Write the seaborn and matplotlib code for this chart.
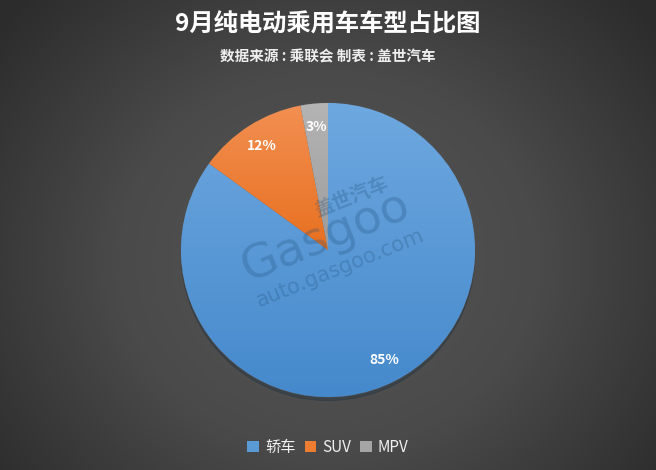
import numpy as np
import matplotlib
matplotlib.use('Agg')
import matplotlib.pyplot as plt
import seaborn as sns
from matplotlib.colors import LinearSegmentedColormap
from matplotlib.patches import Patch

# data
categories = ['轿车', 'SUV', 'MPV']
shares = [85, 12, 3]
top_colors = ['#6ea8e0', '#f28f52', '#b4b4b4']
bottom_colors = ['#4589cc', '#e8701f', '#9c9c9c']
base_colors = ['#5b9bd5', '#ed7d31', '#a5a5a5']

title = '9月纯电动乘用车车型占比图'
subtitle = '数据来源 : 乘联会 制表 : 盖世汽车'

sns.set_theme(style='dark')
plt.rcParams['font.family'] = ['Noto Sans CJK SC', 'DejaVu Sans']

fig = plt.figure(figsize=(6.56, 4.70), dpi=100)

# background radial gradient
bg = fig.add_axes([0, 0, 1, 1])
yy, xx = np.mgrid[0:470, 0:656]
r = np.sqrt(((xx - 328) / 420) ** 2 + ((yy - 260) / 380) ** 2)
r = np.clip(r, 0, 1)
bg_cmap = LinearSegmentedColormap.from_list('bg', ['#565656', '#4a4a4a', '#2c2c2c'])
bg.imshow(r, cmap=bg_cmap, aspect='auto', extent=[0, 1, 0, 1], vmin=0, vmax=1)
bg.set_axis_off()

# pie
ax = fig.add_axes([(328 - 150) / 656, (220 - 150) / 470, 300 / 656, 300 / 470])
wedges, texts, autotexts = ax.pie(
    shares, colors=base_colors, startangle=90, counterclock=False,
    autopct='%.0f%%', pctdistance=0.84,
    wedgeprops=dict(linewidth=0.6, edgecolor='#555555'),
    shadow=dict(ox=0.0, oy=-0.018, shade=0.7, alpha=0.35),
    textprops=dict(color='white', fontsize=10, fontweight='bold'))
lim = 150 / 147
ax.set_axis_off()

# vertical gradient fill for each slice
grad = np.linspace(1, 0, 256).reshape(-1, 1)
for w, c_top, c_bot in zip(wedges, top_colors, bottom_colors):
    ext = w.get_path().get_extents()
    cm = LinearSegmentedColormap.from_list('g', [c_bot, c_top])
    im = ax.imshow(grad, cmap=cm, aspect='auto',
                   extent=[ext.x0, ext.x1, ext.y0, ext.y1], zorder=w.get_zorder() + 0.1)
    im.set_clip_path(w)
ax.set_xlim(-lim, lim)
ax.set_ylim(-lim, lim)
for t in autotexts:
    t.set_zorder(5)

# watermark
wm = dict(color='#1f4f7a', alpha=0.28, rotation=22, ha='center', va='center', zorder=4)
ax.text(0.16, 0.36, '盖世汽车', fontsize=14, fontweight='bold', **wm)
ax.text(-0.02, 0.09, 'Gasgoo', fontsize=34, family='DejaVu Sans', **wm)
ax.text(0.08, -0.12, 'auto.gasgoo.com', fontsize=15, family='DejaVu Sans', **wm)

# titles
fig.text(0.5, 0.948, title, ha='center', va='center', color='white',
         fontsize=17.5, fontweight='bold')
fig.text(0.5, 0.881, subtitle, ha='center', va='center', color='#eeeeee',
         fontsize=10.5, fontweight='bold')

# legend
handles = [Patch(facecolor=c, edgecolor='none') for c in base_colors]
fig.legend(handles, categories, loc='center', bbox_to_anchor=(0.5, 0.048),
           ncol=3, frameon=False, fontsize=11, handlelength=0.75, handleheight=0.75,
           handletextpad=0.4, columnspacing=0.6, labelcolor='#f0f0f0')

fig.savefig('out.png', dpi=100)
